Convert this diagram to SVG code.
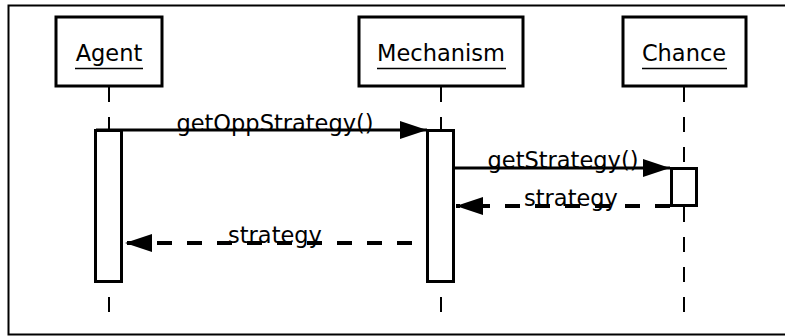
<svg xmlns="http://www.w3.org/2000/svg" width="785" height="336" viewBox="0 0 785 336">
  <style>
    .frame { fill: none; stroke: #000; stroke-width: 2; }
    .head { fill: #fff; stroke: #000; stroke-width: 3; }
    .label { font-family: "DejaVu Sans", "Liberation Sans", sans-serif; font-size: 22.5px; fill: #000; text-anchor: middle; }
    .uline { stroke: #000; stroke-width: 1.6; }
    .life { stroke: #000; stroke-width: 2; stroke-dasharray: 15 15; fill: none; }
    .act { fill: #fff; stroke: #000; stroke-width: 3; }
    .call { stroke: #000; stroke-width: 3; fill: none; marker-end: url(#arrow); }
    .ret { stroke: #000; stroke-width: 4; stroke-dasharray: 15 15; fill: none; marker-end: url(#arrow); }
  </style>
  <defs>
    <marker id="arrow" markerUnits="userSpaceOnUse" markerWidth="28" markerHeight="18" refX="27" refY="9" orient="auto" overflow="visible">
      <path d="M0,0 L27,9 L0,18 Z" fill="#000"/>
    </marker>
  </defs>

  <rect width="785" height="336" fill="#fff"/>
  <!-- diagram frame (open on the right) -->
  <path class="frame" d="M800,5.5 H8.5 V334.5 H800"/>

  <!-- lifelines -->
  <g id="lifelines">
    <line class="life" x1="109" y1="87" x2="109" y2="312"/>
    <line class="life" x1="441" y1="87" x2="441" y2="312"/>
    <line class="life" x1="684" y1="87" x2="684" y2="312"/>
  </g>

  <g id="agent">
    <rect class="head" x="56" y="17" width="106" height="69"/>
    <text class="label" x="109" y="61">Agent</text>
    <line class="uline" x1="75" y1="68.5" x2="143" y2="68.5"/>
    <rect class="act" x="95.5" y="130.5" width="26" height="151"/>
  </g>

  <g id="mechanism">
    <rect class="head" x="359" y="17" width="164" height="69"/>
    <text class="label" x="441" y="61">Mechanism</text>
    <line class="uline" x1="377" y1="68.5" x2="506" y2="68.5"/>
    <rect class="act" x="427.5" y="130.5" width="26" height="151"/>
  </g>

  <g id="chance">
    <rect class="head" x="623" y="17" width="123" height="69"/>
    <text class="label" x="684" y="61">Chance</text>
    <line class="uline" x1="642" y1="68.5" x2="727" y2="68.5"/>
    <rect class="act" x="671.5" y="168.5" width="25" height="37"/>
  </g>

  <!-- messages -->
  <g id="connectors">
    <line class="call" x1="96" y1="130" x2="427" y2="130"/>
    <text class="label" x="275" y="131">getOppStrategy()</text>

    <line class="call" x1="454" y1="168" x2="670" y2="168"/>
    <text class="label" x="563" y="168">getStrategy()</text>

    <line class="ret" x1="670" y1="206" x2="456" y2="206"/>
    <text class="label" x="571" y="206">strategy</text>

    <line class="ret" x1="412" y1="243" x2="125" y2="243"/>
    <text class="label" x="275" y="243">strategy</text>
  </g>
</svg>
